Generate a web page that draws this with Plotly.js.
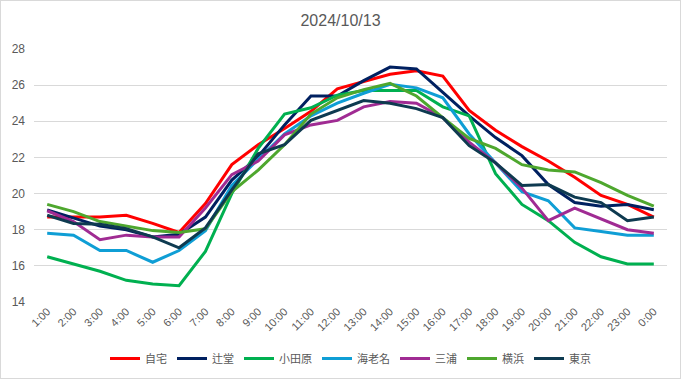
<!DOCTYPE html>
<html>
<head>
<meta charset="utf-8">
<script src="https://cdn.plot.ly/plotly-3.0.1.min.js"></script>
<style>
html,body{margin:0;padding:0;background:#fff;}
#wrap{position:relative;width:681px;height:379px;}
#chart{width:681px;height:379px;}
#frame{position:absolute;left:0;top:0;width:681px;height:379px;box-sizing:border-box;border:1px solid #d9d9d9;pointer-events:none;}
</style>
</head>
<body>
<div id="wrap"><div id="chart"></div><div id="frame"></div></div>
<script>
const hours = ['1:00','2:00','3:00','4:00','5:00','6:00','7:00','8:00','9:00','10:00','11:00','12:00','13:00','14:00','15:00','16:00','17:00','18:00','19:00','20:00','21:00','22:00','23:00','0:00'];

const jitaku    = [18.7,18.7,18.7,18.8,18.35,17.85,19.45,21.6,22.7,23.6,24.55,25.8,26.2,26.6,26.8,26.5,24.6,23.5,22.6,21.8,20.9,19.9,19.4,18.7];
const tsujido   = [19.1,18.65,18.2,18.0,17.6,17.75,18.7,20.75,22.05,23.8,25.4,25.4,26.25,27.0,26.9,25.6,24.3,23.1,22.1,20.5,19.5,19.3,19.4,19.1];
const odawara   = [16.5,16.1,15.7,15.2,15.0,14.9,16.8,20.0,22.5,24.4,24.75,25.45,25.7,25.7,25.7,24.8,24.3,21.1,19.4,18.5,17.3,16.5,16.1,16.1];
const ebina     = [17.8,17.7,16.85,16.85,16.2,16.85,17.95,20.45,21.9,23.3,24.3,25.0,25.55,26.05,25.85,25.3,23.3,21.7,20.1,19.6,18.1,17.9,17.7,17.7];
const miura     = [19.05,18.45,17.45,17.7,17.6,17.6,19.2,21.05,21.8,23.25,23.8,24.05,24.8,25.1,25.0,24.2,22.85,21.7,20.3,18.5,19.2,18.6,18.0,17.8];
const yokohama  = [19.4,19.0,18.45,18.2,17.95,17.85,18.05,20.1,21.3,22.7,24.4,25.3,25.75,26.1,25.4,24.2,23.05,22.5,21.6,21.3,21.2,20.6,19.9,19.3];
const tokyo     = [18.8,18.35,18.3,18.05,17.6,17.0,18.1,20.2,22.2,22.7,24.05,24.6,25.15,25.0,24.7,24.2,22.65,21.7,20.45,20.5,19.8,19.5,18.5,18.7];

const names  = ['自宅','辻堂','小田原','海老名','三浦','横浜','東京'];
const series = [jitaku, tsujido, odawara, ebina, miura, yokohama, tokyo];
const colors = ['#ff0000','#002060','#00b050','#0f9ed5','#a02b93','#4ea72e','#0e3a50'];

const traces = series.map((s,i)=>({
  x: hours, y: s, name: names[i], type:'scatter', mode:'lines',
  line:{color:colors[i], width:3}
}));

const layout = {
  width:681, height:379,
  margin:{l:34, r:14, t:49, b:77, autoexpand:false},
  paper_bgcolor:'#ffffff', plot_bgcolor:'#ffffff',
  font:{family:'"Liberation Sans", Arial, "Noto Sans CJK JP", sans-serif', color:'#595959', size:11},
  title:{text:'2024/10/13', x:0.5, xanchor:'center', y:0.945, yanchor:'middle',
         font:{size:16, color:'#595959', family:'"Liberation Sans", Arial, sans-serif'}},
  xaxis:{type:'category', range:[-0.5,23.5], tickangle:-45, showgrid:false, zeroline:false, automargin:false,
         showline:false, ticks:'', tickfont:{size:11, color:'#595959'}, fixedrange:true},
  yaxis:{range:[14,28], dtick:2, showgrid:true, gridcolor:'#d9d9d9', gridwidth:1, zeroline:false, automargin:false,
         showline:false, ticks:'', ticklabelstandoff:8, tickfont:{size:12, color:'#595959'}, fixedrange:true},
  legend:{orientation:'h', x:0.5, xanchor:'center', y:-0.166, yanchor:'top',
          font:{size:11, color:'#595959', family:'"Noto Sans CJK JP", sans-serif'},
          itemwidth:30, tracegroupgap:0},
  showlegend:true
};

Plotly.newPlot('chart', traces, layout, {displayModeBar:false, staticPlot:true});
</script>
</body>
</html>
